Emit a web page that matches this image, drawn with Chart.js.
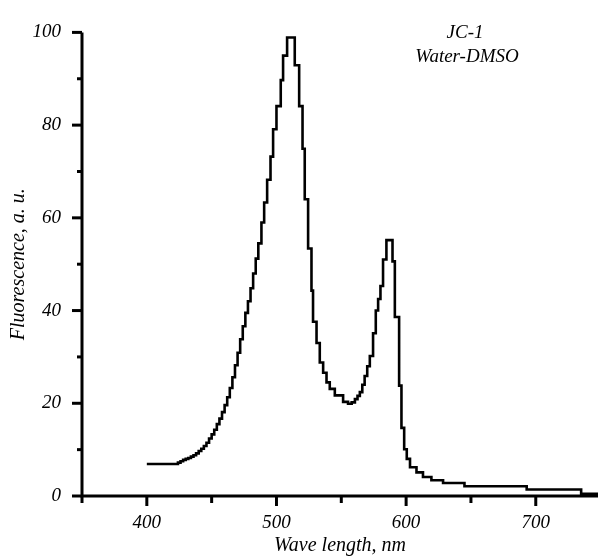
<!DOCTYPE html>
<html>
<head>
<meta charset="utf-8">
<script src="https://cdn.jsdelivr.net/npm/chart.js@4.4.0/dist/chart.umd.min.js"></script>
<style>
html,body{margin:0;padding:0;background:#ffffff;}
#wrap{width:598px;height:558px;}
</style>
</head>
<body>
<div id="wrap"><canvas id="c" width="598" height="558"></canvas></div>
<script>
// ---- data ----
const wavelengths = [
  400, 424, 426, 428, 430, 432, 434, 436, 438, 440,
  442, 444, 446, 448, 450, 452, 454, 456, 458, 460,
  462, 464, 466, 468, 470, 472, 474, 476, 478, 480,
  482, 484, 486, 488.4, 490.5, 492.8, 495.4, 497.4, 500, 503.3,
  505.1, 508.2, 514.1, 517.5, 520.1, 521.8, 524.4, 527, 528.2, 530.9,
  533.4, 536, 538.6, 541.1, 545, 551.4, 555.2, 558, 560.5, 562.5,
  564.3, 566.2, 568, 570, 572, 574.5, 576.6, 578.4, 580.2, 582.2,
  584.8, 589.5, 591.3, 594.6, 596.4, 598.5, 600.5, 603, 608, 613,
  619.5, 628.5, 645, 693, 735, 748
];
const fluorescence = [
  6.9, 7.2, 7.5, 7.8, 8.0, 8.2, 8.5, 8.8, 9.2, 9.7,
  10.2, 10.8, 11.5, 12.4, 13.3, 14.3, 15.5, 16.7, 18.1, 19.6,
  21.3, 23.3, 25.6, 28.2, 30.9, 33.8, 36.6, 39.5, 42.0, 44.8,
  48.0, 51.2, 54.5, 59.0, 63.3, 68.2, 73.2, 79.1, 84.1, 89.7,
  95.0, 98.9, 92.9, 84.1, 74.9, 64.0, 53.4, 44.3, 37.6, 33.0,
  28.8, 26.6, 24.5, 23.1, 21.7, 20.3, 19.9, 20.2, 20.9, 21.6,
  22.4, 24.0, 25.9, 28.0, 30.2, 35.1, 40.0, 42.5, 45.3, 51.0,
  55.2, 50.6, 38.6, 23.8, 14.7, 10.1, 8.0, 6.2, 5.1, 4.1,
  3.4, 2.8, 2.1, 1.4, 0.5, 0.5
];
const xTicks = [350, 400, 450, 500, 550, 600, 650, 700];
const xLabelValues = [400, 500, 600, 700];
const yTicks = [0, 10, 20, 30, 40, 50, 60, 70, 80, 90, 100];
const yLabelValues = [0, 20, 40, 60, 80, 100];
const xTitle = 'Wave length, nm';
const yTitle = 'Fluorescence, a. u.';
const annotationLines = ['JC-1', 'Water-DMSO'];

// ---- styling ----
const FAMILY = "'Liberation Serif', 'Times New Roman', serif";
const tickFont = {family: FAMILY, size: 19, style: 'italic'};
const xTitleFont = {family: FAMILY, size: 20, style: 'italic'};
const yTitleFont = {family: FAMILY, size: 20, style: 'italic'};

const axesPlugin = {
  id: 'axesPlugin',
  afterDraw(chart) {
    const {ctx, chartArea: a, scales: {x, y}} = chart;
    ctx.save();
    ctx.strokeStyle = '#000';
    ctx.lineCap = 'butt';
    ctx.lineWidth = 3;
    ctx.beginPath();
    ctx.moveTo(a.left, a.top);
    ctx.lineTo(a.left, a.bottom);
    ctx.moveTo(a.left - 1.5, a.bottom);
    ctx.lineTo(a.right, a.bottom);
    ctx.stroke();
    yTicks.forEach(v => {
      const py = y.getPixelForValue(v);
      const len = yLabelValues.includes(v) ? 10 : 5;
      ctx.beginPath();
      ctx.moveTo(a.left - len, py);
      ctx.lineTo(a.left, py);
      ctx.stroke();
    });
    xTicks.forEach(v => {
      const px = x.getPixelForValue(v);
      const len = xLabelValues.includes(v) ? 10 : 7;
      ctx.beginPath();
      ctx.moveTo(px, a.bottom);
      ctx.lineTo(px, a.bottom + len);
      ctx.stroke();
    });
    // annotation
    ctx.fillStyle = '#000';
    ctx.font = 'italic 19px ' + FAMILY;
    ctx.textAlign = 'center';
    ctx.textBaseline = 'middle';
    ctx.fillText(annotationLines[0], 465, 33);
    ctx.fillText(annotationLines[1], 467, 57);
    ctx.restore();
  }
};

new Chart(document.getElementById('c'), {
  type: 'line',
  data: {
    datasets: [{
      data: wavelengths.map((w, i) => ({x: w, y: fluorescence[i]})),
      stepped: true,
      borderColor: '#000',
      borderWidth: 2.6,
      pointRadius: 0,
      fill: false,
      tension: 0
    }]
  },
  options: {
    responsive: false,
    animation: false,
    devicePixelRatio: 1,
    layout: {padding: {top: 23, left: 0, right: 0, bottom: 0}},
    plugins: {legend: {display: false}, tooltip: {enabled: false}},
    scales: {
      x: {
        type: 'linear',
        min: 350,
        max: 748,
        afterBuildTicks: s => { s.ticks = xTicks.map(v => ({value: v})); },
        afterFit: s => { s.height = 62; },
        grid: {display: false, drawTicks: false},
        border: {display: false},
        ticks: {
          autoSkip: false, maxRotation: 0, color: '#000', font: tickFont, padding: 16,
          callback: v => xLabelValues.includes(v) ? String(v) : ''
        },
        title: {display: true, text: xTitle, color: '#000', font: xTitleFont, padding: {top: 0, bottom: 0}}
      },
      y: {
        type: 'linear',
        min: 0,
        max: 100,
        afterBuildTicks: s => { s.ticks = yTicks.map(v => ({value: v})); },
        afterFit: s => { s.width = 82; },
        grid: {display: false, drawTicks: false},
        border: {display: false},
        ticks: {
          autoSkip: false, color: '#000', font: tickFont, padding: 21,
          callback: v => yLabelValues.includes(v) ? String(v) : ''
        },
        title: {display: true, text: yTitle, color: '#000', font: yTitleFont, padding: {top: 7, bottom: 0}}
      }
    }
  },
  plugins: [axesPlugin]
});
</script>
</body>
</html>
